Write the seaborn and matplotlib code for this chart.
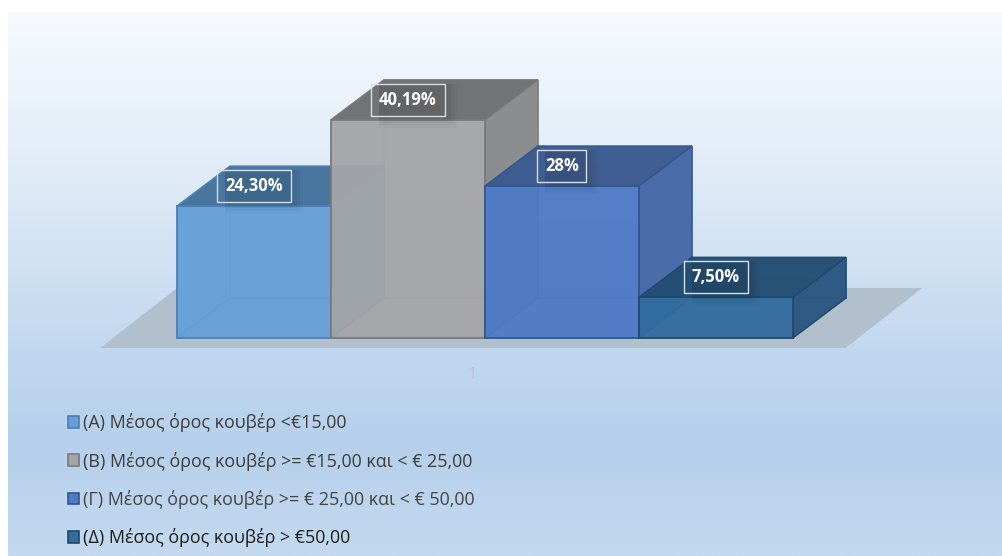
import numpy as np
import pandas as pd
import matplotlib
matplotlib.use("Agg")
import matplotlib.pyplot as plt
import seaborn as sns
from matplotlib.colors import LinearSegmentedColormap
from matplotlib.patches import Polygon, Patch, Rectangle

categories = [
    "(Α) Μέσος όρος κουβέρ <€15,00",
    "(Β) Μέσος όρος κουβέρ >= €15,00 και < € 25,00",
    "(Γ) Μέσος όρος κουβέρ >= € 25,00 και < € 50,00",
    "(Δ) Μέσος όρος κουβέρ > €50,00",
]
shares = [24.30, 40.19, 28.0, 7.50]
value_labels = ["24,30%", "40,19%", "28%", "7,50%"]
axis_label = "1"

front_colors = ["#669fd6", "#a4a6a8", "#4e7ac6", "#326d9f"]
top_colors = ["#44729c", "#6c6e6f", "#3b5a8e", "#234d72"]
side_colors = ["#4f86ba", "#87898a", "#4567a4", "#2a5680"]
edge_colors = ["#4a80b4", "#77797b", "#31578f", "#1f4a6e"]
inner_colors = ["#5f99d0", "#9b9d9f", "#4a76c2", "#2e6898"]

W, H = 1003, 556
BAR_PX = 154.0
BASE_LEFT_PX, BASE_PX = 177.0, 338.0
UNIT_PX = 5.43
DEPTH_X, DEPTH_Y = 53.0 / BAR_PX, 40.0 / UNIT_PX

sns.set_theme(style="white")
plt.rcParams["font.family"] = ["Open Sans", "DejaVu Sans"]

fig = plt.figure(figsize=(W / 100, H / 100), dpi=100, facecolor="white")

# Panel background: vertical gradient, inset from the top and left edges
bg = fig.add_axes([8 / W, 0, (W - 8) / W, (H - 13) / H], zorder=0)
cmap = LinearSegmentedColormap.from_list(
    "panel",
    [(0.0, "#f6fafe"), (0.3, "#e0ebf7"), (0.64, "#bfd7ef"), (0.8, "#b6d0eb"), (1.0, "#c3d9ef")],
)
bg.imshow(np.linspace(0, 1, 256)[:, None], aspect="auto", cmap=cmap, vmin=0, vmax=1)
bg.axis("off")

ax = fig.add_axes([0, 0, 1, 1], zorder=1)
ax.patch.set_alpha(0)

df = pd.DataFrame({"category": categories, "share": shares})
sns.barplot(
    data=df, x="category", y="share", hue="category", order=categories,
    hue_order=categories, palette=front_colors, width=1, dodge=False,
    legend=False, saturation=1, ax=ax,
)

ax.set_xlim((0 - BASE_LEFT_PX) / BAR_PX - 0.5, (W - BASE_LEFT_PX) / BAR_PX - 0.5)
ax.set_ylim((BASE_PX - H) / UNIT_PX, BASE_PX / UNIT_PX)
ax.axis("off")

# Shadow plane under the boxes
ax.add_patch(Polygon(
    [(-1.0, -1.85), (3.84, -1.85), (4.34, 9.2), (-0.5, 9.2)],
    closed=True, facecolor="#b2bfcd", edgecolor="none", zorder=1,
))


def add_face(points, face, edge, z, alpha=0.9, lw=1.0):
    ax.add_patch(Polygon(points, closed=True, facecolor=face, edgecolor=edge,
                         alpha=alpha, linewidth=lw, zorder=z))


# Front faces come from the bars; depth faces are built around each bar's value
bars = [c.patches[0] for c in ax.containers]
for i, (bar, value) in enumerate(zip(bars, shares)):
    z = 2 + 3 * i
    x0, x1 = bar.get_x(), bar.get_x() + bar.get_width()
    back = [(x0 + DEPTH_X, DEPTH_Y), (x1 + DEPTH_X, DEPTH_Y),
            (x1 + DEPTH_X, value + DEPTH_Y), (x0 + DEPTH_X, value + DEPTH_Y)]
    add_face(back, inner_colors[i], edge_colors[i], z, alpha=0.55, lw=0.6)
    add_face([(x0, 0), (x0 + DEPTH_X, DEPTH_Y), (x0 + DEPTH_X, value + DEPTH_Y), (x0, value)],
             inner_colors[i], edge_colors[i], z, alpha=0.55, lw=0.6)
    add_face([(x0, 0), (x1, 0), (x1 + DEPTH_X, DEPTH_Y), (x0 + DEPTH_X, DEPTH_Y)],
             inner_colors[i], edge_colors[i], z, alpha=0.55, lw=0.6)
    add_face([(x1, 0), (x1 + DEPTH_X, DEPTH_Y), (x1 + DEPTH_X, value + DEPTH_Y), (x1, value)],
             side_colors[i], edge_colors[i], z + 1, alpha=0.92)
    add_face([(x0, value), (x1, value), (x1 + DEPTH_X, value + DEPTH_Y), (x0 + DEPTH_X, value + DEPTH_Y)],
             top_colors[i], edge_colors[i], z + 1, alpha=0.94)
    bar.set_alpha(0.9)
    bar.set_edgecolor(edge_colors[i])
    bar.set_linewidth(1.4)
    bar.set_zorder(z + 2)

# Value labels sit in outlined boxes with a soft shadow to the lower right
for i, (bar, value, text) in enumerate(zip(bars, shares, value_labels)):
    cx = bar.get_x() + bar.get_width() / 2
    cy = value + 3.7
    half_w = {6: 37, 3: 24.5, 5: 32}[len(text)] / BAR_PX
    half_h = 16 / UNIT_PX
    for grow, shade in [(12, 0.025), (9, 0.03), (6, 0.03), (3, 0.035)]:
        ax.add_patch(Rectangle(
            (cx - half_w + 8 / BAR_PX, cy - half_h - grow / UNIT_PX),
            2 * half_w - 8 / BAR_PX + grow / BAR_PX, 2 * half_h + grow / UNIT_PX,
            facecolor="black", edgecolor="none", alpha=shade, zorder=20,
        ))
    ax.add_patch(Rectangle(
        (cx - half_w, cy - half_h), 2 * half_w, 2 * half_h,
        facecolor="none", edgecolor="#d6dfe8", linewidth=1.0, zorder=21,
    ))
    ax.text(cx, cy, text, color="white", fontsize=12, fontweight="bold",
            ha="center", va="center", zorder=22)

ax.text((472 - BASE_LEFT_PX) / BAR_PX - 0.5, (BASE_PX - 375) / UNIT_PX, axis_label,
        color="#bcc2c8", fontsize=12, ha="center", va="center")

handles = [Patch(facecolor=f, edgecolor=e, linewidth=1.2) for f, e in zip(front_colors, edge_colors)]
legend = ax.legend(
    handles, categories, loc="upper left", bbox_to_anchor=(67.5 / W, 1 - 413.5 / H),
    frameon=False, fontsize=12.9, handlelength=0.64, handleheight=0.64,
    handletextpad=0.25, labelspacing=1.07, borderpad=0, borderaxespad=0,
)
for text, color in zip(legend.get_texts(), ["#3c3c3c", "#3c3c3c", "#444444", "#1c1c1c"]):
    text.set_color(color)

fig.savefig("out.png", dpi=100, facecolor="white")
